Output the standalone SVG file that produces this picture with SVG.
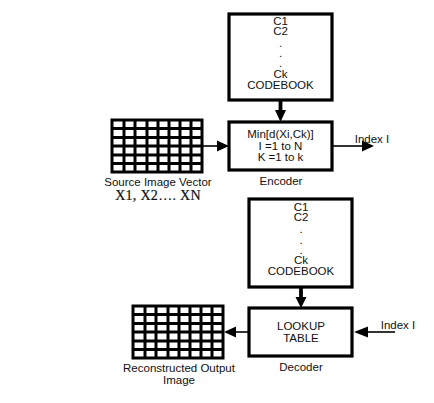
<svg xmlns="http://www.w3.org/2000/svg" width="434" height="403" viewBox="0 0 434 403">
<style>
text{font-family:"Liberation Sans",Arial,sans-serif;font-size:11.500px;fill:#111;text-anchor:middle}
.serif{font-family:"Liberation Serif","Times New Roman",serif;font-size:14px;letter-spacing:.3px;stroke:#111;stroke-width:.2}
.box{fill:#fff;stroke:#000;stroke-width:3.200}
.grid{fill:none;stroke:#000;stroke-width:3}
.c{fill:none;stroke:#000;stroke-width:1.600}
.t{fill:none;stroke:#000;stroke-width:3.800}
.h{fill:#000}
</style>
<defs>
<g id="g">
<rect class="grid" x="0" y="0" width="90" height="52"/>
<path class="grid" d="M12 0V52M23 0V52M35 0V52M46 0V52M57 0V52M68 0V52M79 0V52M0 8.500H90M0 17.500H90M0 26H90M0 35H90M0 43.500H90"/>
</g>
</defs>
<rect width="434" height="403" fill="#fff"/>
<g id="connectors">
<path class="t" d="M280.500 100V112"/><path class="h" d="M275 110H286L280.500 122Z"/>
<path class="c" d="M202 146H220"/><path class="h" d="M217 140.500L229 146L217 151.500Z"/>
<path class="c" d="M332 146H364"/><path class="h" d="M362 140.500L374 146L362 151.500Z"/>
<path class="t" d="M301 287V299"/><path class="h" d="M295.500 297H306.500L301 308Z"/>
<path class="c" d="M249 332H234"/><path class="h" d="M236 326.500L224 332L236 337.500Z"/>
<path class="c" d="M395 332H366"/><path class="h" d="M368 326.500L354 332L368 337.500Z"/>
</g>
<g id="codebook-encoder">
<rect class="box" x="229" y="14" width="103" height="86"/>
<text x="280.500" y="24.500">C1</text><text x="280.500" y="34.500">C2</text>
<text x="280.500" y="47">.</text><text x="280.500" y="57">.</text><text x="280.500" y="67">.</text>
<text x="280.500" y="77.500">Ck</text><text x="280.500" y="88.500">CODEBOOK</text>
</g>
<g id="encoder">
<rect class="box" x="229" y="122" width="103" height="48"/>
<text x="280.500" y="138">Min[d(Xi,Ck)]</text><text x="280.500" y="150">I =1 to N</text><text x="280.500" y="161">K =1 to k</text>
</g>
<g id="source-grid"><use href="#g" x="112" y="120"/></g>
<g id="labels-encoder">
<text x="158" y="186">Source Image Vector</text>
<text class="serif" x="158" y="200">X1, X2…. XN</text>
<text x="281" y="184.500">Encoder</text>
<text x="372" y="143">Index I</text>
</g>
<g id="codebook-decoder">
<rect class="box" x="249" y="199" width="103" height="88"/>
<text x="301" y="211">C1</text><text x="301" y="221">C2</text>
<text x="301" y="233">.</text><text x="301" y="244">.</text><text x="301" y="254">.</text>
<text x="301" y="264">Ck</text><text x="301" y="274.500">CODEBOOK</text>
</g>
<g id="decoder">
<rect class="box" x="249" y="308" width="103" height="48"/>
<text x="301" y="330">LOOKUP</text><text x="301" y="341.500">TABLE</text>
</g>
<g id="output-grid"><use href="#g" x="133" y="306"/></g>
<g id="labels-decoder">
<text x="179" y="372">Reconstructed Output</text>
<text x="179" y="384">Image</text>
<text x="301" y="370.500">Decoder</text>
<text x="398" y="328.500">Index I</text>
</g>
</svg>
